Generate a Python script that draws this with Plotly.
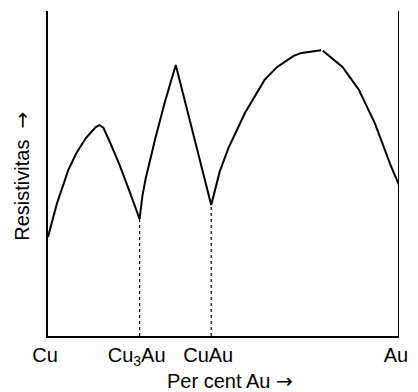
import plotly.graph_objects as go

# Schematic resistivity of Cu–Au alloys vs. composition (arbitrary units)
comp = [0, 2.5, 5.8, 8.1, 10.8, 13.6, 14.7, 15.8, 17.5, 20.3, 23.1, 26.1,
        26.9, 27.8, 30.6, 33.3, 36.4, 39.4, 42.8, 46.5,
        48.9, 51.4, 56.1, 61.7, 65.3, 70.0, 72.2, 77.8, None,
        78.3, 83.9, 88.6, 93.1, 97.8, 100]
resist = [30.5, 40.6, 51.1, 56.3, 60.9, 64.3, 64.9, 64.0, 60.0, 52.9, 44.9, 36.0,
          43.1, 48.3, 60.9, 72.0, 83.4, 70.8, 56.6, 40.3,
          50.5, 57.8, 68.6, 78.8, 82.8, 86.2, 87.1, 87.9, None,
          87.8, 82.8, 75.7, 65.5, 52.0, 46.5]

# Ordered phases and their resistivity minima
phase_comp = [26.1, 46.5]
phase_resist = [36.0, 40.3]

tick_vals = [0, 26.1, 46.5, 100]
tick_text = ["Cu", "Cu<sub>3</sub>Au", "CuAu", "Au"]

arrow = '<span style="font-family:DejaVu Sans">→</span>'

fig = go.Figure()

fig.add_trace(go.Scatter(
    x=comp, y=resist, mode="lines",
    line=dict(color="black", width=2),
    connectgaps=False, hoverinfo="skip", showlegend=False,
))

for xc, yc in zip(phase_comp, phase_resist):
    fig.add_trace(go.Scatter(
        x=[xc, xc], y=[0, yc], mode="lines",
        line=dict(color="black", width=1.2, dash="dot"),
        hoverinfo="skip", showlegend=False,
    ))

# Right-hand boundary line
fig.add_trace(go.Scatter(
    x=[100, 100], y=[0, 100], mode="lines",
    line=dict(color="black", width=2),
    hoverinfo="skip", showlegend=False,
))

font = dict(family="Liberation Sans, Arial, sans-serif", size=20, color="black")

fig.update_layout(
    width=418, height=392,
    margin=dict(l=48, r=10, t=11, b=56),
    paper_bgcolor="white", plot_bgcolor="white",
    font=font,
    xaxis=dict(
        range=[0, 100], showgrid=False, zeroline=False,
        showline=True, linecolor="black", linewidth=2,
        tickvals=tick_vals, ticktext=tick_text, ticks="",
        tickfont=font, ticklabelshift=-3, fixedrange=True,
    ),
    yaxis=dict(
        range=[0, 100], showgrid=False, zeroline=False,
        showline=True, linecolor="black", linewidth=2,
        showticklabels=False, ticks="", fixedrange=True,
    ),
    annotations=[
        dict(text="Per cent Au " + arrow, xref="paper", yref="paper",
             x=0.519, y=0, yshift=-45, showarrow=False, font=font,
             xanchor="center", yanchor="middle"),
        dict(text="Resistivitas  " + arrow, xref="paper", yref="paper",
             x=0, xshift=-26, y=0.49, textangle=-90, showarrow=False,
             font=font, xanchor="center", yanchor="middle"),
    ],
)

fig.write_html("out.html")
